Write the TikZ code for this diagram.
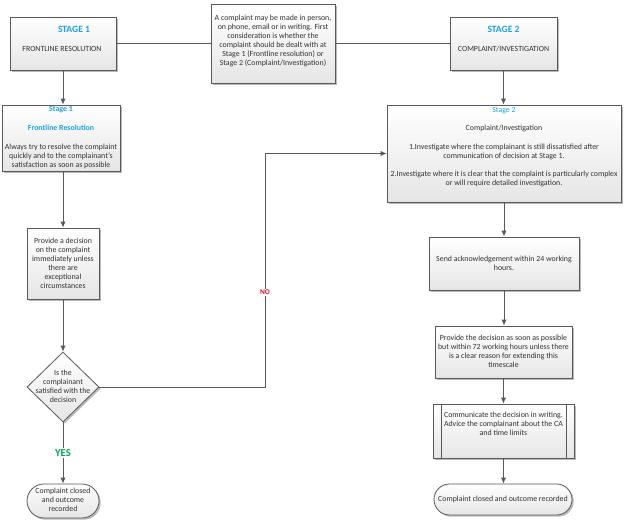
\documentclass[tikz,border=0pt]{standalone}
\usepackage{fontspec}
\setmainfont{Carlito}
\usetikzlibrary{arrows.meta,shapes.geometric,shapes.misc,shadows,calc}
\definecolor{cyanT}{HTML}{1BA1E2}
\definecolor{lineC}{HTML}{595959}
\definecolor{txtC}{HTML}{333333}
\definecolor{yesC}{HTML}{00A651}
\definecolor{noC}{HTML}{E0102A}
\newcommand\fsz{\fontsize{5.9}{6.8}\selectfont}
\newcommand\stgfont{\fontsize{7.2}{8}\selectfont\bfseries}
\tikzset{
  x=0.75pt, y=-0.75pt,
  boxbase/.style={draw=lineC, line width=0.6pt, top color=white, bottom color=black!10,
    drop shadow={shadow xshift=1.3pt, shadow yshift=-1.3pt, fill=black!45, opacity=0.6},
    inner sep=0pt},
  box/.style={boxbase, rectangle},
  term/.style={boxbase, rounded rectangle},
  dia/.style={boxbase, diamond, aspect=1},
  txt/.style={align=center, font=\fsz, text=txtC, inner sep=0pt},
  stg/.style={font=\stgfont, text=cyanT, inner sep=0pt},
  ln/.style={draw=lineC, line width=0.7pt},
  arr/.style={ln, -{Latex[length=4.5pt,width=4pt]}},
}
\begin{document}
\begin{tikzpicture}
\useasboundingbox (0,0) rectangle (625,520);
% top row
\node[box, minimum width=79.5pt, minimum height=39.75pt] (a) at (63,43.5) {};
\node[stg] (alab) at (74,29) {STAGE 1};
\node[txt] (atxt) at (62,49) {FRONTLINE RESOLUTION};
\node[box, minimum width=93pt, minimum height=59.25pt] (top) at (273,43.5) {};
\node[txt] (toptxt) at (273,41) {A complaint may be made in person,\\on phone, email or in writing. First\\consideration is whether the\\complaint should be dealt with at\\Stage 1 (Frontline resolution) or\\Stage 2 (Complaint/Investigation)};
\node[box, minimum width=80.25pt, minimum height=39.75pt] (b) at (503.5,43.5) {};
\node[stg] (blab) at (503.5,29) {STAGE 2};
\node[txt] (btxt) at (503.5,49) {COMPLAINT/INVESTIGATION};
% left column
\node[box, minimum width=88.5pt, minimum height=49.5pt] (s1) at (61,138) {};
\node[txt] (s1txt) at (61,137.5) {{\bfseries\color{cyanT}Stage 1}\\[7.4pt]{\bfseries\color{cyanT}Frontline Resolution}\\[7.4pt]Always try to resolve the complaint\\quickly and to the complainant's\\satisfaction as soon as possible};
\node[box, minimum width=54pt, minimum height=53.25pt] (pd) at (63,263.5) {};
\node[txt] (pdtxt) at (63,263.5) {Provide a decision\\on the complaint\\immediately unless\\there are\\exceptional\\circumstances};
\node[dia, minimum width=54pt, minimum height=52.5pt] (dec) at (63,387) {};
\node[txt] (dectxt) at (63,386) {Is the\\complainant\\satisfied with the\\decision};
\node[term, minimum width=54pt, minimum height=25.5pt] (t1) at (63,501) {};
\node[txt] (t1txt) at (63,500) {Complaint closed\\and outcome\\recorded};
% right column
\node[box, minimum width=175.5pt, minimum height=72.75pt] (s2) at (504,153.5) {};
\node[txt] (s2txt) at (504,147.5) {{\color{cyanT}Stage 2}\\[6.7pt]Complaint/Investigation\\[7.4pt]1.Investigate where the complainant is still dissatisfied after\\communication of decision at Stage 1.\\[6.7pt]2.Investigate where it is clear that the complaint is particularly complex\\or will require detailed investigation.};
\node[box, minimum width=112.5pt, minimum height=39.75pt] (ack) at (504,263.5) {};
\node[txt] (acktxt) at (504,263.5) {Send acknowledgement within 24 working\\hours.};
\node[box, minimum width=102.75pt, minimum height=39pt] (prov) at (503.5,352) {};
\node[txt] (provtxt) at (503.5,351.5) {Provide the decision as soon as possible\\but within 72 working hours unless there\\is a clear reason for extending this\\timescale};
\node[box, minimum width=105.75pt, minimum height=40.5pt] (comm) at (503.5,431) {};
\draw[ln, line width=0.5pt] ($(comm.north west)+(9,0)$) -- ($(comm.south west)+(9,0)$);
\draw[ln, line width=0.5pt] ($(comm.north east)+(-8,0)$) -- ($(comm.south east)+(-8,0)$);
\node[txt] (commtxt) at (503.5,424) {Communicate the decision in writing.\\Advice the complainant about the CA\\and time limits};
\node[term, minimum width=103.5pt, minimum height=23.25pt] (t2) at (503,499.5) {};
\node[txt] (t2txt) at (503,499.5) {Complaint closed and outcome recorded};
% connectors
\draw[ln] (a.east) -- (top.west);
\draw[ln] (top.east) -- (b.west);
\draw[arr] (a.south) -- (a.south |- s1.north);
\draw[arr] (pd.north |- s1.south) -- (pd.north);
\draw[arr] (pd.south) -- (dec.north);
\draw[arr] (dec.south) -- node[fill=white, inner sep=1pt, font=\fontsize{8}{9}\selectfont\bfseries, text=yesC] (yes) {YES} (t1.north);
\coordinate (nox) at (265,0);
\draw[arr] (dec.east) -- (dec.east -| nox) -- node[pos=0.405, fill=white, inner sep=0.8pt, font=\fontsize{5.5}{6}\selectfont\bfseries, text=noC] (no) {NO} (nox |- s2.west) -- (s2.west);
\draw[arr] (b.south) -- (b.south |- s2.north);
\draw[arr] (ack.north |- s2.south) -- (ack.north);
\draw[arr] (ack.south) -- (ack.south |- prov.north);
\draw[arr] (prov.south) -- (prov.south |- comm.north);
\draw[arr] (comm.south) -- (comm.south |- t2.north);
\end{tikzpicture}
\end{document}
